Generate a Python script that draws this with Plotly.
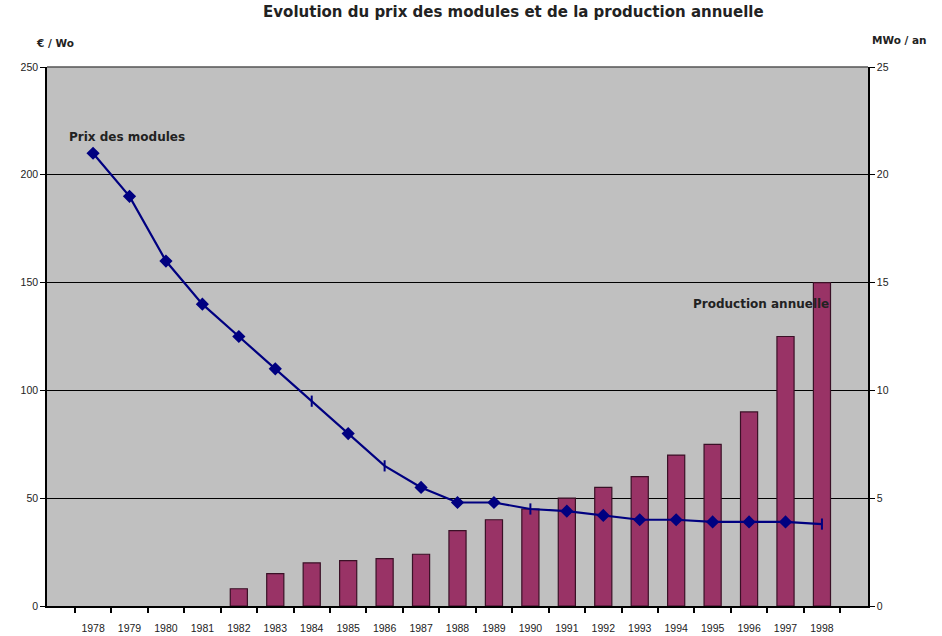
import plotly.graph_objects as go

# Years on the category axis
years = [str(y) for y in range(1978, 1999)]

# Module price (€ / Wo)
prix_modules = [210, 190, 160, 140, 125, 110, 95, 80, 65, 55, 48, 48,
                45, 44, 42, 40, 40, 39, 39, 39, 38]

# Annual production (MWo / an); no production shown before 1982
production = [None, None, None, None, 0.8, 1.5, 2.0, 2.1, 2.2, 2.4, 3.5, 4.0,
              4.5, 5.0, 5.5, 6.0, 7.0, 7.5, 9.0, 12.5, 15.0]

# Marker shapes along the price line
price_symbols = ["diamond", "diamond", "diamond", "diamond", "diamond", "diamond",
                 "line-ns", "diamond", "line-ns", "diamond", "diamond", "diamond",
                 "line-ns", "diamond", "diamond", "diamond", "diamond", "diamond",
                 "diamond", "diamond", "line-ns"]

TICK_FONT = dict(family="Liberation Sans Narrow, Liberation Sans, Arial", size=10.5, color="#222")
TEXT_FONT = dict(family="DejaVu Sans, Verdana, sans-serif", size=12, color="#222", weight="bold")
UNIT_FONT = dict(family="DejaVu Sans, Verdana, sans-serif", size=10.5, color="#222", weight="bold")

fig = go.Figure()

fig.add_trace(go.Bar(
    x=years, y=production, yaxis="y",
    marker=dict(color="#993366", line=dict(color="#3a1026", width=1.2)),
    width=0.47, name="Production annuelle", showlegend=False,
))

fig.add_trace(go.Scatter(
    x=years, y=prix_modules, yaxis="y2", mode="lines+markers",
    line=dict(color="#000080", width=2.2),
    marker=dict(symbol=price_symbols, size=8, color="#000080",
                line=dict(color="#000080", width=2)),
    name="Prix des modules", showlegend=False,
))

fig.update_layout(
    width=942, height=636,
    margin=dict(l=47, r=74, t=67, b=30),
    paper_bgcolor="white",
    plot_bgcolor="#C0C0C0",
    bargap=0.53,
    title=dict(text="Evolution du prix des modules et de la production annuelle",
               x=0.545, xanchor="center", y=0.99, yanchor="top",
               font=dict(family="DejaVu Sans, Verdana, sans-serif", size=15,
                         color="#222", weight="bold")),
    xaxis=dict(
        type="category", showgrid=False, tickson="boundaries",
        ticks="outside", ticklen=5, tickwidth=1.5, tickcolor="black",
        showline=True, linecolor="black", linewidth=1.5, mirror=False,
        tickfont=TICK_FONT, ticklabelstandoff=12, automargin=False,
    ),
    yaxis=dict(
        side="right", range=[0, 25], dtick=5, showgrid=True,
        gridcolor="black", gridwidth=1, zeroline=False,
        showline=True, linecolor="black", linewidth=1.5,
        ticks="outside", ticklen=5, tickcolor="black",
        tickfont=TICK_FONT, automargin=False,
    ),
    yaxis2=dict(
        overlaying="y", side="left", range=[0, 250], dtick=50, showgrid=False,
        zeroline=False, showline=True, linecolor="black", linewidth=1.5,
        ticks="outside", ticklen=5, tickcolor="black",
        tickfont=TICK_FONT, automargin=False,
    ),
    shapes=[dict(type="line", xref="paper", yref="paper", x0=0, x1=1, y0=1, y1=1,
                 line=dict(color="#555", width=1.5))],
    annotations=[
        dict(text="Prix des modules", xref="paper", yref="y2", x=0.024, y=217.5,
             xanchor="left", yanchor="middle", showarrow=False, font=TEXT_FONT),
        dict(text="Production annuelle", xref="paper", yref="y2", x=0.955, y=140,
             xanchor="right", yanchor="middle", showarrow=False, font=TEXT_FONT),
        dict(text="€ / Wo", xref="paper", yref="paper", x=0.01, y=1.045,
             xanchor="center", yanchor="middle", showarrow=False, font=UNIT_FONT),
        dict(text="MWo / an", xref="paper", yref="paper", x=1.003, y=1.05,
             xanchor="left", yanchor="middle", showarrow=False, font=UNIT_FONT),
    ],
)

fig.write_html("out.html")
